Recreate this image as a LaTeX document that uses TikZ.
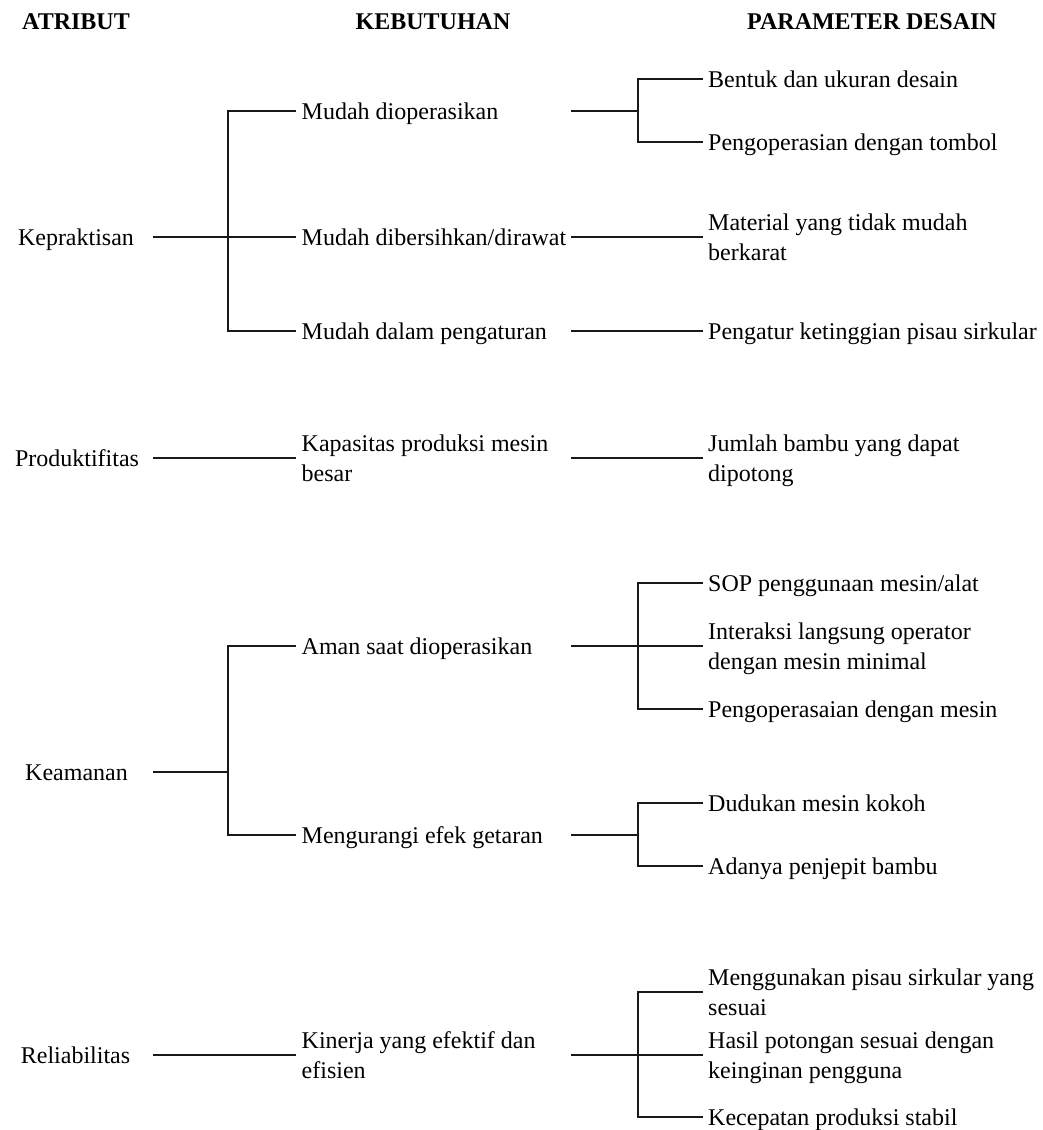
\documentclass[tikz,border=0pt]{standalone}
\usepackage{fontspec}
\setmainfont{Liberation Serif}
\newcommand{\tline}[2]{\begin{tabular}[t]{@{}l@{}}#1\\#2\end{tabular}}
\begin{document}
\begin{tikzpicture}[x=1pt,y=-1pt,
  every node/.style={inner sep=0pt, font=\fontsize{24}{30}\selectfont},
  one/.style={text height=16pt, text depth=0pt},
  two/.style={text height=16pt, text depth=30pt},
  head/.style={one, font=\fontsize{24}{30}\selectfont\bfseries},
  attr/.style={one, anchor=center},
  lv/.style={anchor=west},
  conn/.style={line width=1.2pt, draw=black!90}]
\useasboundingbox (0,0) rectangle (1042,1130);
% column coordinates
\coordinate (xa) at (153,0);
\coordinate (xb) at (228,0);
\coordinate (xc) at (296,0);
\coordinate (xd) at (571,0);
\coordinate (xe) at (638,0);
\coordinate (xf) at (703,0);
% headers
\node[head] (h1) at (76,21) {ATRIBUT};
\node[head] (h2) at (433,21) {KEBUTUHAN};
\node[head] (h3) at (872,21) {PARAMETER DESAIN};
% attributes
\node[attr] (a1) at (76,237) {Kepraktisan};
\node[attr] (a2) at (77,458) {Produktifitas};
\node[attr] (a3) at (76.5,772) {Keamanan};
\node[attr] (a4) at (75.5,1055) {Reliabilitas};
% needs
\node[lv,one] (k1) at (301.5,111) {Mudah dioperasikan};
\node[lv,one] (k2) at (301.5,237) {Mudah dibersihkan/dirawat};
\node[lv,one] (k3) at (301.5,331) {Mudah dalam pengaturan};
\node[lv,two] (k4) at (301.5,458) {\tline{Kapasitas produksi mesin}{besar}};
\node[lv,one] (k5) at (301.5,646) {Aman saat dioperasikan};
\node[lv,one] (k6) at (301.5,835) {Mengurangi efek getaran};
\node[lv,two] (k7) at (301.5,1055) {\tline{Kinerja yang efektif dan}{efisien}};
% design parameters
\node[lv,one] (p1) at (708,79) {Bentuk dan ukuran desain};
\node[lv,one] (p2) at (708,142) {Pengoperasian dengan tombol};
\node[lv,two] (p3) at (708,237) {\tline{Material yang tidak mudah}{berkarat}};
\node[lv,one] (p4) at (708,331) {Pengatur ketinggian pisau sirkular};
\node[lv,two] (p5) at (708,458) {\tline{Jumlah bambu yang dapat}{dipotong}};
\node[lv,one] (p6) at (708,583) {SOP penggunaan mesin/alat};
\node[lv,two] (p7) at (708,646) {\tline{Interaksi langsung operator}{dengan mesin minimal}};
\node[lv,one] (p8) at (708,709) {Pengoperasaian dengan mesin};
\node[lv,one] (p9) at (708,803) {Dudukan mesin kokoh};
\node[lv,one] (p10) at (708,866) {Adanya penjepit bambu};
\node[lv,two] (p11) at (708,992) {\tline{Menggunakan pisau sirkular yang}{sesuai}};
\node[lv,two] (p12) at (708,1055) {\tline{Hasil potongan sesuai dengan}{keinginan pengguna}};
\node[lv,one] (p13) at (708,1117) {Kecepatan produksi stabil};
% connectors: Kepraktisan
\draw[conn] (xa |- a1.center) -- (xc |- k2.west);
\draw[conn] (xc |- k1.west) -- (xb |- k1.west) -- (xb |- k3.west) -- (xc |- k3.west);
\draw[conn] (xd |- k1.west) -- (xe |- k1.west);
\draw[conn] (xf |- p1.west) -- (xe |- p1.west) -- (xe |- p2.west) -- (xf |- p2.west);
\draw[conn] (xd |- k2.west) -- (xf |- k2.west);
\draw[conn] (xd |- k3.west) -- (xf |- k3.west);
% Produktifitas
\draw[conn] (xa |- a2.center) -- (xc |- a2.center);
\draw[conn] (xd |- k4.west) -- (xf |- k4.west);
% Keamanan
\draw[conn] (xa |- a3.center) -- (xb |- a3.center);
\draw[conn] (xc |- k5.west) -- (xb |- k5.west) -- (xb |- k6.west) -- (xc |- k6.west);
\draw[conn] (xd |- k5.west) -- (xf |- k5.west);
\draw[conn] (xf |- p6.west) -- (xe |- p6.west) -- (xe |- p8.west) -- (xf |- p8.west);
\draw[conn] (xd |- k6.west) -- (xe |- k6.west);
\draw[conn] (xf |- p9.west) -- (xe |- p9.west) -- (xe |- p10.west) -- (xf |- p10.west);
% Reliabilitas
\draw[conn] (xa |- a4.center) -- (xc |- a4.center);
\draw[conn] (xd |- k7.west) -- (xf |- k7.west);
\draw[conn] (xf |- p11.west) -- (xe |- p11.west) -- (xe |- p13.west) -- (xf |- p13.west);
\end{tikzpicture}
\end{document}
